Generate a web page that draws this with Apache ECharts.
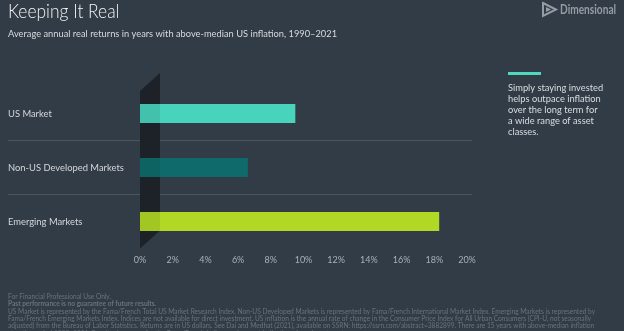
<!DOCTYPE html>
<html>
<head>
<meta charset="utf-8">
<script src="https://cdn.jsdelivr.net/npm/echarts@6/dist/echarts.min.js"></script>
<style>
html,body{margin:0;padding:0;background:#323c46;}
#c{width:624px;height:331px;}
</style>
</head>
<body>
<div id="c"></div>
<script>
const categories = ['US Market', 'Non-US Developed Markets', 'Emerging Markets'];
const values = [9.5, 6.6, 18.3];
const barColors = ['#48d3bc', '#0f6b6b', '#b0d825'];
const tickLabels = ['0%', '2%', '4%', '6%', '8%', '10%', '12%', '14%', '16%', '18%', '20%'];
const titleText = 'Keeping It Real';
const subtitleText = 'Average annual real returns in years with above-median US inflation, 1990\u20132021';
const noteLines = ['Simply staying invested', 'helps outpace inflation', 'over the long term for', 'a wide range of asset', 'classes.'];
const footerLines = [
  'For Financial Professional Use Only.',
  'Past performance is no guarantee of future results.',
  'US Market is represented by the Fama/French Total US Market Research Index. Non-US Developed Markets is represented by Fama/French International Market Index. Emerging Markets is represented by',
  'Fama/French Emerging Markets Index. Indices are not available for direct investment. US inflation is the annual rate of change in the Consumer Price Index for All Urban Consumers (CPI-U, not seasonally',
  'adjusted) from the Bureau of Labor Statistics. Returns are in US dollars. See Dai and Medhat (2021), available on SSRN: https://ssrn.com/abstract=3882899. There are 15 years with above-median inflation',
  'over the period 1990\u20132021. Results shown are for the Fama/French indices and are not indicative of any investment.'
];

const FONT = 'Lato, "Open Sans", sans-serif';
const chart = echarts.init(document.getElementById('c'), null, {renderer: 'canvas'});

const grid = {left: 140, right: 157, top: 86.5, bottom: 82.5};

chart.setOption({
  backgroundColor: '#323c46',
  animation: false,
  grid: grid,
  xAxis: {
    type: 'value', min: 0, max: 20, interval: 2,
    axisLine: {show: false}, axisTick: {show: false}, splitLine: {show: false},
    axisLabel: {
      color: '#a9b0b6', fontSize: 9, fontFamily: FONT, margin: 7,
      formatter: function (v) { return tickLabels[Math.round(v / 2)]; }
    }
  },
  yAxis: {
    type: 'category', data: categories, inverse: true,
    axisLine: {show: false}, axisTick: {show: false}, splitLine: {show: false},
    axisLabel: {color: '#d3d7db', fontSize: 9.4, fontFamily: FONT, align: 'left', margin: 132}
  },
  series: [{
    type: 'bar', barWidth: 19, z: 3,
    data: values.map(function (v, i) { return {value: v, itemStyle: {color: barColors[i]}}; })
  }]
});

function draw() {
  const x0 = chart.convertToPixel({xAxisIndex: 0}, 0);
  const xEnd = chart.convertToPixel({xAxisIndex: 0}, 20);
  const gTop = grid.top;
  const gBot = 331 - grid.bottom;
  const band = (gBot - gTop) / categories.length;
  const graphics = [];
  for (let i = 1; i < categories.length; i++) {
    const y = Math.round(gTop + band * i) - 0.5;
    graphics.push({type: 'line', z: 1, shape: {x1: 8, y1: y, x2: xEnd + 5, y2: y},
      style: {stroke: '#4c5660', lineWidth: 1.2}});
  }
  const pts = [[x0, gTop + 4.5], [x0 + 20, gTop - 13.5], [x0 + 20, gBot - 18], [x0, gBot]];
  graphics.push({type: 'polygon', z: 1, shape: {points: pts}, style: {fill: '#1f252b'}});
  graphics.push({type: 'polygon', z: 10, shape: {points: pts}, style: {fill: 'rgba(0,0,0,0.08)'}});
  // title
  graphics.push({type: 'text', x: 8, y: 2, scaleX: 0.87, originX: 0,
    style: {x: 0, y: 0, text: titleText, fill: '#f2f4f5', fontSize: 20, fontWeight: 300, fontFamily: FONT, verticalAlign: 'top'}});
  graphics.push({type: 'text', x: 8, y: 29, scaleX: 0.93, originX: 0,
    style: {x: 0, y: 0, text: subtitleText, fill: '#d6dadd', fontSize: 10, fontFamily: FONT, verticalAlign: 'top'}});
  // logo
  graphics.push({type: 'polygon', shape: {points: [[543, 3], [556, 9.5], [543, 16]]}, style: {fill: 'none', stroke: '#959ca3', lineWidth: 2}});
  graphics.push({type: 'polygon', shape: {points: [[546, 7], [551, 9.5], [546, 12]]}, style: {fill: '#959ca3'}});
  graphics.push({type: 'text', x: 560, y: 3, scaleX: 0.78, originX: 0,
    style: {x: 0, y: 0, text: 'Dimensional', fill: '#959ca3', fontSize: 13, fontWeight: 'bold', fontFamily: FONT, verticalAlign: 'top'}});
  // note
  graphics.push({type: 'rect', shape: {x: 508, y: 72, width: 33, height: 3}, style: {fill: '#4fd8c0'}});
  graphics.push({type: 'text', x: 508, y: 83,
    style: {x: 0, y: 0, text: noteLines.join('\n'), fill: '#d9dde0', fontSize: 9.3, lineHeight: 10.9, fontFamily: FONT, verticalAlign: 'top'}});
  // footer
  footerLines.forEach(function (t, i) {
    graphics.push({type: 'text', x: 8, y: 293.5 + i * 7.3, style: {
      x: 0, y: 0, text: t, fill: '#69737c', fontSize: 6.6, fontFamily: FONT, verticalAlign: 'top',
      fontWeight: i === 1 ? 'bold' : 'normal'
    }});
  });
  chart.setOption({graphic: graphics});
}
draw();
</script>
</body>
</html>
